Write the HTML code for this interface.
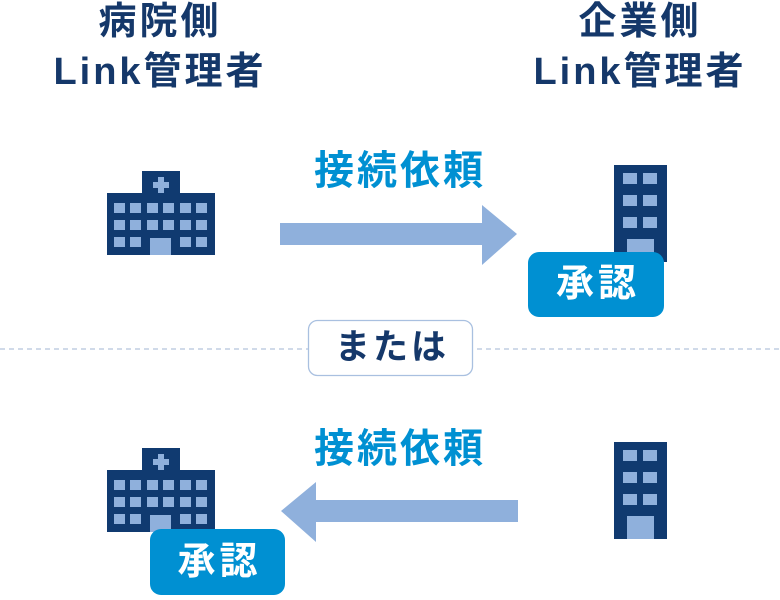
<!DOCTYPE html>
<html><head><meta charset="utf-8"><style>
body{margin:0;width:780px;height:600px;background:#fff;position:relative;overflow:hidden;font-family:"Liberation Sans","Noto Sans CJK JP",sans-serif;}
.t{position:absolute;font-weight:bold;white-space:nowrap;text-align:center;}
</style></head><body>
<svg width="780" height="600" style="position:absolute;left:0;top:0">
<defs>
<g id="hosp">
<rect x="142" y="171" width="38" height="24" fill="#103a70"/>
<rect x="158" y="177" width="6" height="16" fill="#8fb0dc"/>
<rect x="153" y="182" width="16" height="6" fill="#8fb0dc"/>
<rect x="107" y="193" width="108" height="62" fill="#103a70"/>
<g fill="#8fb0dc">
<rect x="114" y="203" width="11" height="10"/><rect x="130" y="203" width="11" height="10"/><rect x="147" y="203" width="11" height="10"/><rect x="163" y="203" width="11" height="10"/><rect x="180" y="203" width="11" height="10"/><rect x="196" y="203" width="11" height="10"/>
<rect x="114" y="220" width="11" height="10"/><rect x="130" y="220" width="11" height="10"/><rect x="147" y="220" width="11" height="10"/><rect x="163" y="220" width="11" height="10"/><rect x="180" y="220" width="11" height="10"/><rect x="196" y="220" width="11" height="10"/>
<rect x="114" y="237" width="11" height="10"/><rect x="130" y="237" width="11" height="10"/><rect x="180" y="237" width="11" height="10"/><rect x="196" y="237" width="11" height="10"/>
<rect x="150" y="238" width="21" height="17"/>
</g></g>
<g id="bld">
<rect x="614" y="165" width="53" height="97" fill="#103a70"/>
<g fill="#8fb0dc">
<rect x="623" y="173" width="14" height="11"/><rect x="643" y="173" width="14" height="11"/>
<rect x="623" y="195" width="14" height="11"/><rect x="643" y="195" width="14" height="11"/>
<rect x="623" y="217" width="14" height="11"/><rect x="643" y="217" width="14" height="11"/>
<rect x="627" y="239" width="27" height="23"/>
</g></g>
</defs>
<use href="#hosp"/>
<use href="#bld"/>
<use href="#hosp" transform="translate(0,277)"/>
<use href="#bld" transform="translate(0,277)"/>
<polygon points="280,223 482,223 482,205 517,234 482,265 482,245 280,245" fill="#8fb0dc"/>
<polygon points="518,500 316,500 316,482 281,511 316,542 316,522 518,522" fill="#8fb0dc"/>
<line x1="0" y1="349" x2="780" y2="349" stroke="#b5c4dc" stroke-width="1.3" stroke-dasharray="5,4"/>
<rect x="308.5" y="320.5" width="164" height="55" rx="9" fill="#fff" stroke="#a9c0e0" stroke-width="1.3"/>
<rect x="528" y="252" width="136" height="65" rx="11" fill="#0090d2"/>
<rect x="150" y="529" width="135" height="66" rx="11" fill="#0090d2"/>
</svg>
<div class="t" style="left:40px;top:-3px;width:240px;font-size:38px;letter-spacing:3px;line-height:50px;color:#15386a;">病院側<br>Link管理者</div>
<div class="t" style="left:520px;top:-3px;width:240px;font-size:38px;letter-spacing:3px;line-height:50px;color:#15386a;">企業側<br>Link管理者</div>
<div class="t" style="left:300px;top:146px;width:200px;font-size:40px;letter-spacing:3px;line-height:50px;color:#0090d2;">接続依頼</div>
<div class="t" style="left:300px;top:424px;width:200px;font-size:40px;letter-spacing:3px;line-height:50px;color:#0090d2;">接続依頼</div>
<div class="t" style="left:308px;top:324px;width:168px;font-size:35px;letter-spacing:3px;line-height:48px;color:#15386a;">または</div>
<div class="t" style="left:528px;top:261px;width:140px;font-size:38px;letter-spacing:4px;line-height:46px;color:#fff;">承認</div>
<div class="t" style="left:150px;top:539px;width:139px;font-size:38px;letter-spacing:4px;line-height:46px;color:#fff;">承認</div>
</body></html>
